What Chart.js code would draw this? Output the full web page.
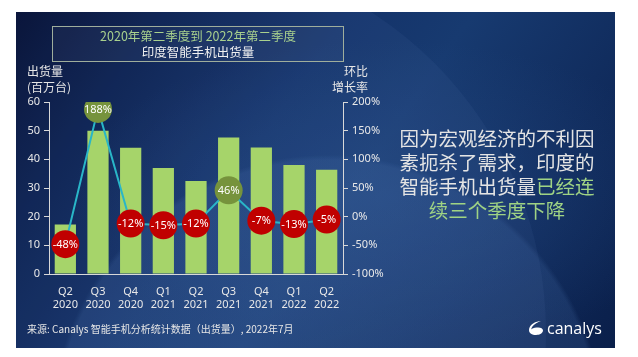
<!DOCTYPE html>
<html>
<head>
<meta charset="utf-8">
<script src="https://cdn.jsdelivr.net/npm/chart.js@4"></script>
<style>
  html,body{margin:0;padding:0;background:#fff;width:638px;height:357px;overflow:hidden;}
  #panel{position:absolute;left:16px;top:12px;width:599px;height:336px;overflow:hidden;
    background:
      radial-gradient(circle at 52% 125%, rgba(70,110,170,0.28) 0, rgba(70,110,170,0.22) 52%, rgba(70,110,170,0) 53%),
      radial-gradient(ellipse at 62% 55%, rgba(40,80,140,0.45) 0, rgba(40,80,140,0) 60%),
      linear-gradient(125deg, #020b2e 0%, #0a1f4e 18%, #14336a 40%, #173a70 55%, #102b5c 78%, #0a1f4a 100%);}
  #arc{position:absolute;left:-230px;top:-60px;width:760px;height:760px;border-radius:50%;
    background:rgba(90,120,175,0.10);}
  .t{position:absolute;font-family:"Noto Sans CJK SC","Noto Sans",sans-serif;z-index:3;white-space:nowrap;}
  #titlebox{position:absolute;left:52px;top:26px;width:290px;height:34px;border:1px solid #9fae9c;
    background:rgba(255,255,255,0.04);z-index:3;font-family:"Noto Sans CJK SC",sans-serif;text-align:center;}
  #titlebox div{font-size:12.5px;line-height:16px;}
  canvas{position:absolute;left:0;top:0;z-index:2;}
</style>
</head>
<body>
<div id="panel"><div id="arc"></div></div>
<div id="titlebox">
  <div style="color:#a9d18e;margin-top:1px;">2020年第二季度到 2022年第二季度</div>
  <div style="color:#f0f0f0;">印度智能手机出货量</div>
</div>
<div class="t" style="left:27px;top:63px;font-size:12px;line-height:16px;color:#e6e6e6;">出货量<br>(百万台)</div>
<div class="t" style="left:330px;width:38px;top:63px;font-size:12px;line-height:16px;color:#e6e6e6;text-align:right;">环比<br>增长率</div>
<div class="t" style="left:377px;width:240px;top:126px;font-size:19.5px;line-height:24px;color:#e4e4e4;text-align:center;">因为宏观经济的不利因<br>素扼杀了需求，印度的<br>智能手机出货量<span style="color:#9fd384;">已经连<br>续三个季度下降</span></div>
<div class="t" style="left:27px;top:321px;font-size:10px;line-height:16px;color:#e6e6e6;">来源: Canalys 智能手机分析统计数据（出货量）, 2022年7月</div>
<svg style="position:absolute;left:527px;top:320px;z-index:3;" width="18" height="16" viewBox="0 0 18 16">
  <path d="M14 1 C8 1 2 5 2 10 C2 13.5 5 15 9 15 C13 15 16 13 16 10.5 C16 8 13 7 9.5 7.5 C7 7.8 5 8.5 4 9.5 C5 5.5 9 2.5 14 1 Z" fill="#ffffff"/>
</svg>
<div class="t" style="left:547px;top:318px;font-size:16px;line-height:20px;color:#ffffff;font-family:'Open Sans',sans-serif;">canalys</div>
<canvas id="c" width="638" height="357"></canvas>
<script>
const categories = [["Q2","2020"],["Q3","2020"],["Q4","2020"],["Q1","2021"],["Q2","2021"],["Q3","2021"],["Q4","2021"],["Q1","2022"],["Q2","2022"]];
const shipments = [17.3, 50.0, 44.0, 37.0, 32.4, 47.6, 44.1, 38.0, 36.4];
const qoqGrowth = [-48, 188, -12, -15, -12, 46, -7, -13, -5];
const growthLabels = ["-48%","188%","-12%","-15%","-12%","46%","-7%","-13%","-5%"];
const leftTicks = [0,10,20,30,40,50,60];
const rightTicks = [-100,-50,0,50,100,150,200];

const pointLabelPlugin = {
  id: 'pointLabels',
  afterDatasetsDraw(chart) {
    const meta = chart.getDatasetMeta(1);
    const ctx = chart.ctx;
    ctx.save();
    ctx.font = '11px "Noto Sans", "DejaVu Sans", sans-serif';
    ctx.fillStyle = '#ffffff';
    ctx.textAlign = 'center';
    ctx.textBaseline = 'middle';
    meta.data.forEach((pt, i) => {
      ctx.fillText(growthLabels[i], pt.x, pt.y + 0.5);
    });
    ctx.restore();
  }
};

const axisColor = '#d8d8d8';
const tickFont = {family: '"Noto Sans", sans-serif', size: 11};

new Chart(document.getElementById('c'), {
  data: {
    labels: categories,
    datasets: [
      {
        type: 'bar',
        data: shipments,
        backgroundColor: '#a6d46a',
        borderWidth: 0,
        categoryPercentage: 1.0,
        barPercentage: 0.65,
        yAxisID: 'y',
        order: 2
      },
      {
        type: 'line',
        data: qoqGrowth,
        borderColor: '#29b6c8',
        borderWidth: 2,
        tension: 0,
        pointRadius: 14,
        pointHoverRadius: 14,
        pointBorderWidth: 0,
        pointBackgroundColor: qoqGrowth.map(v => v > 0 ? '#76933c' : '#c00000'),
        yAxisID: 'y1',
        order: 1
      }
    ]
  },
  options: {
    responsive: false,
    animation: false,
    events: [],
    layout: {padding: {left: 0, top: 102, right: 245, bottom: 48}},
    plugins: {legend: {display: false}, tooltip: {enabled: false}},
    scales: {
      x: {
        offset: true,
        grid: {display: false},
        border: {display: true, color: axisColor, width: 1},
        ticks: {color: '#e8e8e8', font: tickFont, padding: 3, maxRotation: 0, autoSkip: false},
        afterFit(s) { s.height = 35; }
      },
      y: {
        position: 'left',
        min: 0, max: 60,
        afterBuildTicks(s) { s.ticks = leftTicks.map(v => ({value: v})); },
        grid: {drawOnChartArea: false, drawTicks: true, tickLength: 5, color: axisColor},
        border: {display: true, color: axisColor, width: 1},
        ticks: {color: '#e8e8e8', font: tickFont, padding: 4},
        afterFit(s) { s.width = 49; }
      },
      y1: {
        position: 'right',
        min: -100, max: 200,
        afterBuildTicks(s) { s.ticks = rightTicks.map(v => ({value: v})); },
        grid: {drawOnChartArea: false, drawTicks: true, tickLength: 5, color: axisColor},
        border: {display: true, color: axisColor, width: 1},
        ticks: {color: '#e8e8e8', font: tickFont, padding: 4, callback: v => v + '%'},
        afterFit(s) { s.width = 50; }
      }
    }
  },
  plugins: [pointLabelPlugin]
});
</script>
</body>
</html>
